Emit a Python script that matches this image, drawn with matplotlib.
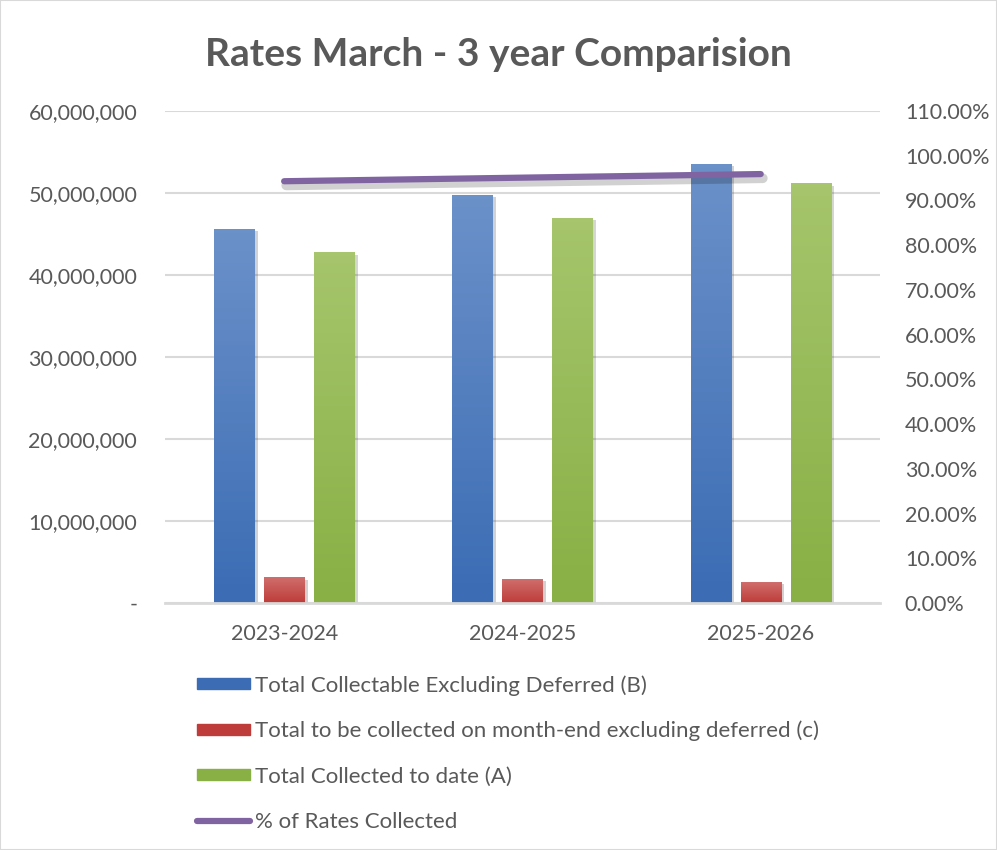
import numpy as np
import matplotlib.pyplot as plt
import matplotlib.patheffects as pe
from matplotlib.ticker import FuncFormatter, MultipleLocator
from matplotlib.colors import LinearSegmentedColormap
from matplotlib.patches import Rectangle
from matplotlib.lines import Line2D

years = ['2023-2024', '2024-2025', '2025-2026']
collectable_b = [45600000, 49750000, 53500000]
to_collect_c = [3050000, 2900000, 2550000]
collected_a = [42700000, 46950000, 51100000]
pct_collected = [0.943, 0.951, 0.959]

labels = ['Total Collectable Excluding Deferred (B)',
          'Total to be collected on month-end excluding deferred (c)',
          'Total Collected to date (A)',
          '% of Rates Collected']

# top / bottom colours of the gradient fills
blue = ('#6B91C9', '#3B6CB4')
red = ('#CF6E6C', '#BE3C39')
green = ('#A6C56C', '#88B045')
purple = '#8064A2'
grey = '#595959'

plt.rcParams['font.family'] = ['Lato', 'DejaVu Sans']

fig = plt.figure(figsize=(9.97, 8.5), dpi=100)
ax = fig.add_axes([0.1655, 0.2906, 0.717, 0.5788])

x = np.arange(len(years))
w = 0.168
off = 0.21


def gradient_bars(xpos, vals, cols):
    bars = ax.bar(xpos, vals, w, color=cols[1], zorder=2,
                  path_effects=[pe.SimplePatchShadow(offset=(2.5, -1.5), alpha=0.2), pe.Normal()])
    grad = np.linspace(0, 1, 100).reshape(-1, 1)
    cmap = LinearSegmentedColormap.from_list('g', [cols[1], cols[0]])
    for b in bars:
        ax.imshow(grad, extent=[b.get_x(), b.get_x() + b.get_width(), 0, b.get_height()],
                  origin='lower', aspect='auto', cmap=cmap, zorder=3)
    return bars


gradient_bars(x - off, collectable_b, blue)
gradient_bars(x, to_collect_c, red)
gradient_bars(x + off, collected_a, green)

ax.set_xlim(-0.5, 2.5)
ax.set_ylim(0, 60000000)
ax.yaxis.set_major_locator(MultipleLocator(10000000))
ax.yaxis.set_major_formatter(FuncFormatter(lambda v, p: '-' if v == 0 else f'{v:,.0f}'))
ax.set_xticks(x)
ax.set_xticklabels(years)
ax.grid(axis='y', color='#D9D9D9', linewidth=1.5, zorder=0)
ax.set_axisbelow(True)
for s in ['top', 'right', 'left']:
    ax.spines[s].set_visible(False)
ax.spines['bottom'].set_color('#D9D9D9')
ax.spines['bottom'].set_linewidth(2)
ax.spines['bottom'].set_zorder(4)
ax.tick_params(axis='y', length=0, pad=20, labelsize=15.5, labelcolor=grey)
ax.tick_params(axis='x', length=0, pad=15, labelsize=15.5, labelcolor=grey)

ax2 = ax.twinx()
ax2.plot(x, pct_collected, color=purple, linewidth=4.5, solid_capstyle='round',
         path_effects=[pe.SimpleLineShadow(offset=(1.5, -3), alpha=0.18, shadow_color='black',
                                           linewidth=7), pe.Normal()])
ax2.set_ylim(0, 1.1)
ax2.yaxis.set_major_locator(MultipleLocator(0.1))
ax2.yaxis.set_major_formatter(FuncFormatter(lambda v, p: f'{v * 100:.2f}%'))
for s in ax2.spines.values():
    s.set_visible(False)
ax2.tick_params(axis='y', length=0, pad=18, labelsize=15.5, labelcolor=grey)

fig.suptitle('Rates March - 3 year Comparision', x=0.5, y=0.957, fontsize=28,
             fontweight='bold', color=grey)

handles = [Rectangle((0, 0), 1, 1, color=blue[1]), Rectangle((0, 0), 1, 1, color=red[1]),
           Rectangle((0, 0), 1, 1, color=green[1]),
           Line2D([], [], color=purple, linewidth=4.5, solid_capstyle='round')]
fig.legend(handles, labels, loc='upper left', bbox_to_anchor=(197 / 997, 1 - 675 / 850),
           frameon=False, fontsize=16, labelcolor=grey, handlelength=2.4,
           handleheight=0.4, handletextpad=0.2, labelspacing=1.13,
           borderpad=0, borderaxespad=0)

fig.patches.append(Rectangle((0, 0), 1, 1, transform=fig.transFigure, fill=False,
                             edgecolor='#D9D9D9', linewidth=1.5))

fig.savefig('out.png', dpi=100)
